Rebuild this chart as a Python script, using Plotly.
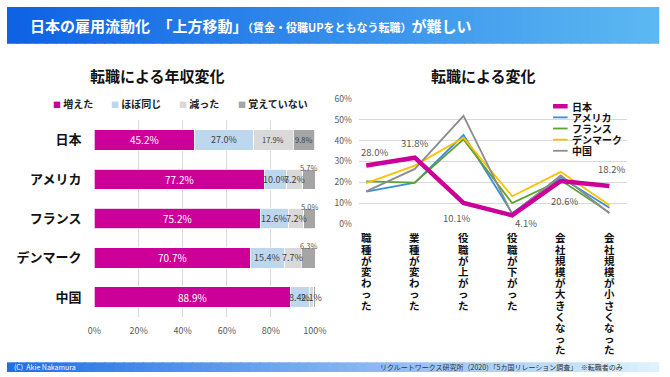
import plotly.graph_objects as go

W, H = 670, 377
FONT = "Noto Sans CJK JP"

# ---------------- data ----------------
countries = ["日本", "アメリカ", "フランス", "デンマーク", "中国"]
income_series = ["増えた", "ほぼ同じ", "減った", "覚えていない"]
increased = [45.2, 77.2, 75.2, 70.7, 88.9]
same = [27.0, 10.0, 12.6, 15.4, 8.4]
decreased = [17.9, 7.2, 7.2, 7.7, 2.1]
dont_remember = [9.8, 5.7, 5.0, 6.3, 0.7]
x_ticks_left = [0, 20, 40, 60, 80, 100]

change_categories = ["職種が変わった", "業種が変わった", "役職が上がった",
                     "役職が下がった", "会社規模が大きくなった", "会社規模が小さくなった"]
line_names = ["日本", "アメリカ", "フランス", "デンマーク", "中国"]
japan = [28.0, 31.8, 10.1, 4.1, 20.6, 18.2]
usa = [15.5, 19.8, 42.7, 5.1, 22.4, 7.7]
france = [20.4, 19.8, 40.6, 10.0, 21.0, 5.4]
denmark = [19.6, 28.0, 41.4, 13.3, 25.0, 9.0]
china = [15.6, 26.4, 51.9, 4.6, 23.3, 5.1]
y_ticks_right = [0, 10, 20, 30, 40, 50, 60]

# ---------------- styles ----------------
bar_colors = ["#CC0099", "#BDD7EE", "#D9D9D9", "#A5A5A5"]
line_colors = {"日本": "#CC0099", "アメリカ": "#3A8FD9", "フランス": "#5EA22F",
               "デンマーク": "#FFC000", "中国": "#8C8C8C"}
line_widths = {"日本": 4.5, "アメリカ": 1.8, "フランス": 1.8, "デンマーク": 1.8, "中国": 1.8}


def pxx(p):
    return p / W


def pyy(p):
    return 1 - p / H


fig = go.Figure()

# ---------------- left: stacked bars ----------------
series_vals = [increased, same, decreased, dont_remember]
for name, vals, col in zip(income_series, series_vals, bar_colors):
    fig.add_trace(go.Bar(
        y=countries, x=vals, name=name, orientation="h",
        marker=dict(color=col, line=dict(color="white", width=0.8)),
        xaxis="x", yaxis="y", showlegend=False, hoverinfo="skip"))

# ---------------- right: lines ----------------
line_vals = {"日本": japan, "アメリカ": usa, "フランス": france, "デンマーク": denmark, "中国": china}
for name in ["アメリカ", "フランス", "デンマーク", "中国", "日本"]:
    fig.add_trace(go.Scatter(
        x=change_categories, y=line_vals[name], mode="lines", name=name,
        line=dict(color=line_colors[name], width=line_widths[name]),
        xaxis="x2", yaxis="y2", showlegend=False, hoverinfo="skip"))

annotations = []
shapes = []


def ann(**kw):
    kw.setdefault("showarrow", False)
    kw.setdefault("xanchor", "center")
    kw.setdefault("yanchor", "middle")
    annotations.append(kw)


# bar labels
for i, c in enumerate(countries):
    start = 0.0
    for k, vals in enumerate(series_vals):
        v = vals[i]
        center = start + v / 2
        start += v
        txt = f"{v:.1f}%"
        if k == 0:
            ann(x=center, y=c, xref="x", yref="y", text=txt,
                font=dict(family=FONT, size=10, color="white"))
        elif k == 3 and c != "日本":
            if c == "中国":
                ann(x=center + 1.5, y=c, xref="x", yref="y", text=txt, yshift=-15,
                    font=dict(family=FONT, size=7, color="#7F7F7F"))
            else:
                ann(x=center, y=c, xref="x", yref="y", text=txt, yshift=12,
                    font=dict(family=FONT, size=7.5, color="#595959"))
        else:
            size = 9 if (c != "日本" or k == 1) else 7.5
            ann(x=center, y=c, xref="x", yref="y", text=txt,
                font=dict(family=FONT, size=size, color="#404040"))

# Japan line labels
jp_offsets = [(8, 14), (0, 15), (-7, -15), (14, -8), (4, -20), (2, 17)]
for cat, v, (dx, dy) in zip(change_categories, japan, jp_offsets):
    ann(x=cat, y=v, xref="x2", yref="y2", text=f"{v:.1f}%", xshift=dx, yshift=dy,
        font=dict(family=FONT, size=9.5, color="#595959"))

# vertical category labels (stacked characters)
PITCH = 11.2
for cat in change_categories:
    for j, ch in enumerate(cat):
        ann(x=cat, y=0, xref="x2", yref="y2", text=f"<b>{ch}</b>", height=PITCH, valign="middle",
            yshift=-(14 + PITCH * j), font=dict(family=FONT, size=10.5, color="#111111"))

# titles
ann(x=pxx(155), y=pyy(71), xref="paper", yref="paper", text="<b>転職による年収変化</b>",
    font=dict(family=FONT, size=15, color="#111111"))
ann(x=pxx(490), y=pyy(71), xref="paper", yref="paper", text="<b>転職による変化</b>",
    font=dict(family=FONT, size=15, color="#111111"))

# left legend (manual)
leg_x = [45, 105, 175, 236]
for name, col, lx in zip(income_series, bar_colors, leg_x):
    ann(x=pxx(lx), y=pyy(100), xref="paper", yref="paper", xanchor="left",
        text=f"<span style='color:{col};font-size:8px'>■</span> <b>{name}</b>",
        font=dict(family=FONT, size=10, color="#222222"))

# right legend (manual)
for i, name in enumerate(line_names):
    yy = 102.5 + 11.5 * i
    shapes.append(dict(type="line", xref="paper", yref="paper", x0=pxx(562), x1=pxx(577),
                       y0=pyy(yy), y1=pyy(yy),
                       line=dict(color=line_colors[name], width=line_widths[name])))
    ann(x=pxx(579), y=pyy(yy), xref="paper", yref="paper", xanchor="left",
        text=f"<b>{name}</b>", font=dict(family=FONT, size=10, color="#111111"))


# header / footer gradient bars
def lerp(c1, c2, t):
    return "rgb(%d,%d,%d)" % tuple(round(a + (b - a) * t) for a, b in zip(c1, c2))


N = 67
for i in range(N):
    t = i / (N - 1)
    shapes.append(dict(type="rect", xref="paper", yref="paper", layer="below",
                       x0=i / N, x1=(i + 1) / N + 0.002, y0=pyy(38), y1=1,
                       fillcolor=lerp((14, 98, 228), (92, 184, 242), t), line=dict(width=0)))
    shapes.append(dict(type="rect", xref="paper", yref="paper", layer="below",
                       x0=i / N, x1=(i + 1) / N + 0.002, y0=0, y1=pyy(367),
                       fillcolor=lerp((30, 112, 232), (222, 241, 252), t), line=dict(width=0)))

ann(x=pxx(22), y=pyy(19.5), xref="paper", yref="paper", xanchor="left",
    text="<b>日本の雇用流動化　「上方移動」<span style='font-size:11px'>（賃金・役職UPをともなう転職）</span>が難しい</b>",
    font=dict(family=FONT, size=15, color="white"))
ann(x=pxx(5), y=pyy(372), xref="paper", yref="paper", xanchor="left",
    text="(C)  Akie Nakamura", font=dict(family=FONT, size=7, color="white"))
ann(x=pxx(636), y=pyy(372), xref="paper", yref="paper", xanchor="right",
    text="リクルートワークス研究所（2020）「5カ国リレーション調査」　※転職者のみ",
    font=dict(family=FONT, size=7, color="#333333"))

fig.update_layout(
    width=W, height=H, margin=dict(l=0, r=0, t=0, b=0),
    paper_bgcolor="white", plot_bgcolor="white",
    barmode="stack", bargap=0.48,
    font=dict(family=FONT, size=9, color="#595959"),
    xaxis=dict(domain=[pxx(90), pxx(317)], range=[0, 100], tickvals=x_ticks_left,
               ticktext=[f"{v}%" for v in x_ticks_left], showgrid=True, gridcolor="#D9D9D9",
               gridwidth=1, zeroline=False, showline=False, ticks="", anchor="y",
               ticklabelstandoff=7, tickfont=dict(size=9, color="#595959")),
    yaxis=dict(domain=[pyy(320), pyy(117)], autorange="reversed", showgrid=False, zeroline=False,
               ticks="", ticklabelstandoff=12, anchor="x",
               tickfont=dict(family=FONT, size=13, color="#111111", weight="bold")),
    xaxis2=dict(domain=[pxx(362), pxx(638)], showticklabels=False, showgrid=False, zeroline=False,
                ticks="", anchor="y2"),
    yaxis2=dict(domain=[pyy(224), pyy(95)], range=[0, 60], tickvals=y_ticks_right,
                ticktext=[f"{v}%" for v in y_ticks_right], showgrid=True, gridcolor="#D9D9D9",
                zeroline=False, ticks="", anchor="x2", ticklabelstandoff=6,
                tickfont=dict(size=8.5, color="#595959")),
    annotations=annotations, shapes=shapes,
)

fig.write_html("out.html", config={"displayModeBar": False},
               post_script="document.body.style.margin='0';")
